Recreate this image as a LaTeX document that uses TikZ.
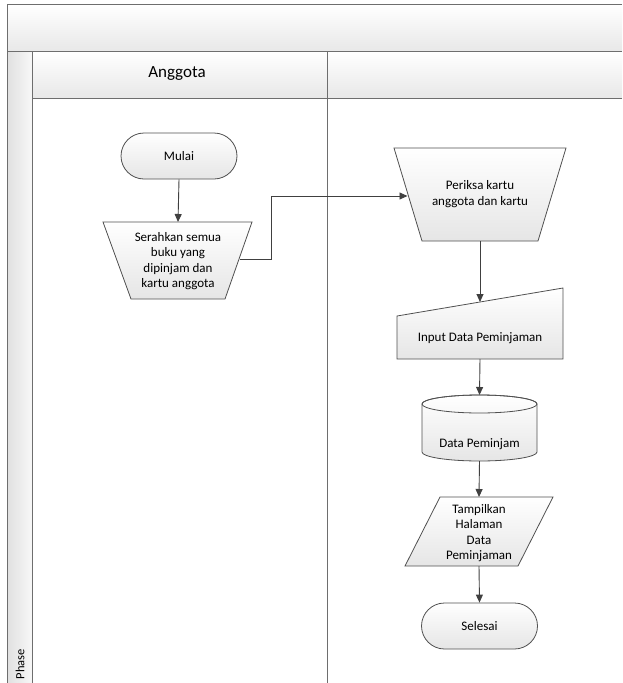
\documentclass[tikz,border=0pt]{standalone}
\usepackage{fontspec}
\setmainfont{Carlito}
\usetikzlibrary{arrows.meta,calc}
\definecolor{lanec}{HTML}{6E6E6E}
\definecolor{shapec}{HTML}{505050}
\definecolor{arrowc}{HTML}{404040}
\begin{document}
\begin{tikzpicture}[x=1pt,y=-1pt,
  laneline/.style={draw=lanec,line width=0.9pt},
  shapefill/.style={top color=white,bottom color=black!10,draw=shapec,line width=0.8pt},
  box/.style={inner sep=0pt,outer sep=0pt},
  txt/.style={font=\fontsize{13}{15.5}\selectfont,align=center,inner sep=0pt},
  term/.style={shapefill,rectangle,rounded corners=23pt,minimum width=116pt,minimum height=46pt,txt},
  conn/.style={draw=arrowc,line width=0.9pt,-{Triangle[length=8pt,width=7pt]}}]
\useasboundingbox (0,0) rectangle (622,683);
% swimlane frame
\fill[top color=white,bottom color=black!9] (7,4) rectangle (622,51);
\fill[top color=white,bottom color=black!9] (32,51) rectangle (622,98);
\fill[left color=black!12,right color=black!3] (7,51) rectangle (32,683);
\draw[laneline] (622,4) -- (7,4) -- (7,683);
\draw[laneline] (7,51) -- (622,51);
\draw[laneline] (32,51) -- (32,683);
\draw[laneline] (32,98) -- (622,98);
\draw[laneline] (327,51) -- (327,683);
\node[font=\fontsize{17}{20}\selectfont] (ang) at (177,74) {Anggota};
\node[font=\fontsize{12.5}{15}\selectfont,rotate=90,inner sep=0pt] (phase) at (20,664) {Phase};
% shapes outlines
\path[shapefill] (103,222) -- (252,222) -- (225,299) -- (131,299) -- cycle;
\path[shapefill] (394,148) -- (566,148) -- (538,241) -- (422,241) -- cycle;
\path[shapefill] (397,316) -- (563,288) -- (563,359) -- (397,359) -- cycle;
\path[shapefill] (422,404) -- (422,452) arc[start angle=180,end angle=0,x radius=57.5,y radius=9] -- (537,404) arc[start angle=0,end angle=-180,x radius=57.5,y radius=9] -- cycle;
\draw[draw=shapec,line width=0.8pt] (479.5,404) ellipse[x radius=57.5,y radius=9];
\path[shapefill] (440,497) -- (553,497) -- (518,566) -- (405,566) -- cycle;
% nodes
\node[term] (mulai) at (179,156) {Mulai};
\node[box,minimum width=149pt,minimum height=77pt] (ser) at (178,260.5) {};
\node[txt] (serT) at (178,261) {Serahkan semua\\buku yang\\dipinjam dan\\kartu anggota};
\node[box,minimum width=172pt,minimum height=93pt] (per) at (480,194.5) {};
\node[txt] (perT) at (480,194) {Periksa kartu\\anggota dan kartu};
\node[box,minimum width=166pt,minimum height=71pt] (inp) at (480,323.5) {};
\node[txt] (inpT) at (480,338) {Input Data Peminjaman};
\node[box,minimum width=115pt,minimum height=66pt] (cyl) at (479.5,428) {};
\node[txt] (cylT) at (479.5,444) {Data Peminjam};
\node[box,minimum width=148pt,minimum height=69pt] (par) at (479,531.5) {};
\node[txt] (parT) at (479,533) {Tampilkan\\Halaman\\Data\\Peminjaman};
\node[term] (sel) at (479.5,626) {Selesai};
% connector anchors
\coordinate (serR) at (239.5,259);
\coordinate (perL) at (407.5,196);
\coordinate (inpTop) at (480,302);
% connectors
\draw[conn] (mulai.south) -- (ser.north);
\draw[conn] (serR) -- ++(32,0) |- (perL);
\draw[conn] (per.south) -- (inpTop);
\draw[conn] (inp.south) -- (cyl.north);
\draw[conn] (cyl.south) -- (par.north);
\draw[conn] (par.south) -- (sel.north);
\end{tikzpicture}
\end{document}
